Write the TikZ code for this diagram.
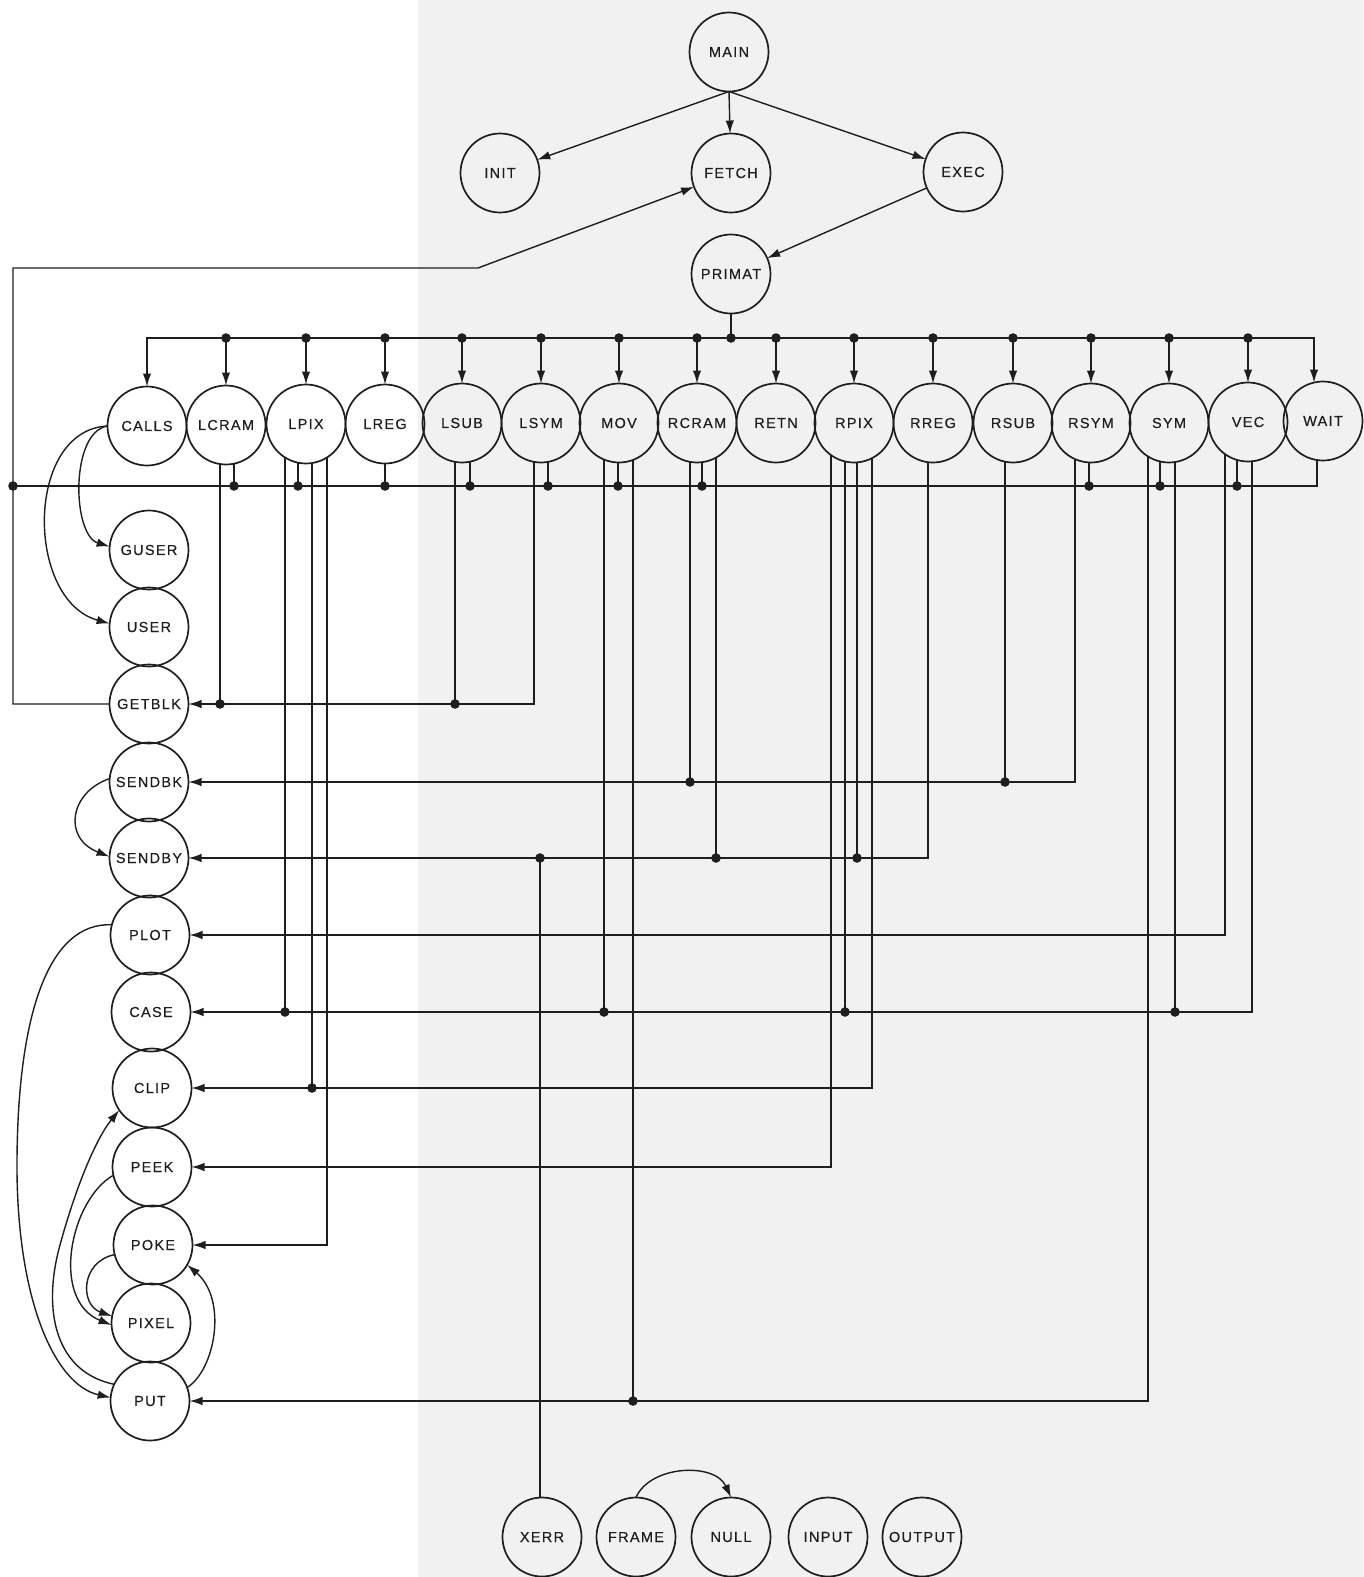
\documentclass[tikz,border=0pt]{standalone}
\usepackage{fontspec}
\setmainfont{Liberation Sans}[LetterSpace=9,FakeBold=0.4]
\usetikzlibrary{arrows.meta,calc}
\definecolor{bggrey}{RGB}{241,241,241}
\definecolor{ink}{RGB}{30,30,30}
% start point of a vertical line leaving the bottom of a circle (radius 39.5) at offset dx
\newcommand{\lstart}[3]{\coordinate (#1-#2) at ($(#1)+(#3,{sqrt(1560.25-(#3)*(#3))})$);}
\newcommand{\jdot}[1]{\fill[ink] #1 circle[radius=4.8pt];}
\begin{document}
\begin{tikzpicture}[x=1pt,y=-1pt,line width=1.4pt,draw=ink,
  proc/.style={circle,draw=ink,line width=1.7pt,minimum size=79pt,inner sep=0pt,outer sep=0pt,
    text=ink,font=\fontsize{14.5}{15}\selectfont},
  arr/.style={-{Latex[length=13pt,width=8.5pt]}}]
\useasboundingbox (0,0) rectangle (1363,1577);
\fill[bggrey] (418,0) rectangle (1363,1577);

% top
\node[proc] (MAIN) at (729,52) {MAIN};
\node[proc] (INIT) at (500,173) {INIT};
\node[proc] (FETCH) at (731,173) {FETCH};
\node[proc] (EXEC) at (963,172) {EXEC};
\node[proc] (PRIMAT) at (731,274) {PRIMAT};

% row
\node[proc] (CALLS) at (147,426) {CALLS};
\node[proc] (LCRAM) at (226,425) {LCRAM};
\node[proc] (LPIX) at (306,424) {LPIX};
\node[proc] (LREG) at (385,424) {LREG};
\node[proc] (LSUB) at (462,423) {LSUB};
\node[proc] (LSYM) at (541,423) {LSYM};
\node[proc] (MOV) at (619,423) {MOV};
\node[proc] (RCRAM) at (697,423) {RCRAM};
\node[proc] (RETN) at (776,423) {RETN};
\node[proc] (RPIX) at (854,423) {RPIX};
\node[proc] (RREG) at (933,423) {RREG};
\node[proc] (RSUB) at (1013,423) {RSUB};
\node[proc] (RSYM) at (1091,423) {RSYM};
\node[proc] (SYM) at (1169,423) {SYM};
\node[proc] (VEC) at (1248,422) {VEC};
\node[proc] (WAIT) at (1323,421) {WAIT};

% left column
\node[proc] (GUSER) at (149,550) {GUSER};
\node[proc] (USER) at (149,627) {USER};
\node[proc] (GETBLK) at (149,704) {GETBLK};
\node[proc] (SENDBK) at (149,782) {SENDBK};
\node[proc] (SENDBY) at (149,858) {SENDBY};
\node[proc] (PLOT) at (150,935) {PLOT};
\node[proc] (CASE) at (151,1012) {CASE};
\node[proc] (CLIP) at (152,1088) {CLIP};
\node[proc] (PEEK) at (152,1167) {PEEK};
\node[proc] (POKE) at (153,1245) {POKE};
\node[proc] (PIXEL) at (151,1323) {PIXEL};
\node[proc] (PUT) at (150,1401) {PUT};

% bottom row
\node[proc] (XERR) at (542,1537) {XERR};
\node[proc] (FRAME) at (636,1537) {FRAME};
\node[proc] (NULL) at (731,1537) {NULL};
\node[proc] (INPUT) at (828,1537) {INPUT};
\node[proc] (OUTPUT) at (922,1537) {OUTPUT};

% top part
\draw[arr] (MAIN.south) -- (INIT);
\draw[arr] (MAIN.south) -- (FETCH);
\draw[arr] (MAIN.south) -- (EXEC);
\draw[arr] (EXEC) -- (PRIMAT);

% top bus
\coordinate (tb) at (PRIMAT |- 0,338);
\coordinate (WAIT-t) at ($(WAIT)+(-9,{-sqrt(1560.25-81)})$);
\draw (PRIMAT) -- (tb);
\jdot{(tb)}
\draw[arr] (tb) -| (CALLS);
\draw[arr] (tb) -| (WAIT-t);
\foreach \n in {LCRAM,LPIX,LREG,LSUB,LSYM,MOV,RCRAM,RETN,RPIX,RREG,RSUB,RSYM,SYM,VEC}{
  \draw[arr] (\n |- tb) -- (\n);
  \jdot{(\n |- tb)}
}

% line starts
\lstart{LCRAM}{a}{-6} \lstart{LCRAM}{b}{8}
\lstart{LPIX}{a}{-21} \lstart{LPIX}{b}{-8} \lstart{LPIX}{c}{6} \lstart{LPIX}{d}{21}
\lstart{LREG}{a}{0}
\lstart{LSUB}{a}{-7} \lstart{LSUB}{b}{8}
\lstart{LSYM}{a}{-7} \lstart{LSYM}{b}{7}
\lstart{MOV}{a}{-15} \lstart{MOV}{b}{-1} \lstart{MOV}{c}{14}
\lstart{RCRAM}{a}{-7} \lstart{RCRAM}{b}{5} \lstart{RCRAM}{c}{19}
\lstart{RPIX}{a}{-23} \lstart{RPIX}{b}{-9} \lstart{RPIX}{c}{3} \lstart{RPIX}{d}{18}
\lstart{RREG}{a}{-5}
\lstart{RSUB}{a}{-8}
\lstart{RSYM}{a}{-16} \lstart{RSYM}{b}{-2}
\lstart{SYM}{a}{-21} \lstart{SYM}{b}{-9} \lstart{SYM}{c}{6}
\lstart{VEC}{a}{-23} \lstart{VEC}{b}{-11} \lstart{VEC}{c}{4}
\lstart{WAIT}{a}{-6}

% return bus to FETCH
\coordinate (lb) at (13,486);
\draw[arr] (GETBLK.west) -- (GETBLK.west -| lb) |- (478,268) -- (FETCH);
\draw (WAIT-a) |- (lb);
\jdot{(lb)}
\foreach \p in {LCRAM-b,LPIX-b,LREG-a,LSUB-b,LSYM-b,MOV-b,RCRAM-b,RSYM-b,SYM-b,VEC-b}{
  \draw (\p) -- (\p |- lb);
  \jdot{(\p |- lb)}
}

% GETBLK
\draw[arr] (LSYM-a) |- (GETBLK);
\foreach \p in {LSUB-a,LCRAM-a}{\draw (\p) -- (\p |- GETBLK); \jdot{(\p |- GETBLK)}}
% SENDBK
\draw[arr] (RSYM-a) |- (SENDBK);
\foreach \p in {RSUB-a,RCRAM-a}{\draw (\p) -- (\p |- SENDBK); \jdot{(\p |- SENDBK)}}
% SENDBY
\draw[arr] (RREG-a) |- (SENDBY);
\foreach \p in {RPIX-c,RCRAM-c}{\draw (\p) -- (\p |- SENDBY); \jdot{(\p |- SENDBY)}}
\draw ($(XERR.north)+(-2,0)$) coordinate (xe) -- (xe |- SENDBY);
\jdot{(xe |- SENDBY)}
% PLOT
\draw[arr] (VEC-a) |- (PLOT);
% CASE
\draw[arr] (VEC-c) |- (CASE);
\foreach \p in {SYM-c,RPIX-b,MOV-a,LPIX-a}{\draw (\p) -- (\p |- CASE); \jdot{(\p |- CASE)}}
% CLIP
\draw[arr] (RPIX-d) |- (CLIP);
\draw (LPIX-c) -- (LPIX-c |- CLIP); \jdot{(LPIX-c |- CLIP)}
% PEEK
\draw[arr] (RPIX-a) |- (PEEK);
% POKE
\draw[arr] (LPIX-d) |- (POKE);
% PUT
\draw[arr] (SYM-a) |- (PUT);
\draw (MOV-c) -- (MOV-c |- PUT); \jdot{(MOV-c |- PUT)}

% curved calls on the left
\draw[arr] (CALLS.180) .. controls (70,432) and (72,535) .. (GUSER.175);
\draw[arr] (CALLS.180) .. controls (25,430) and (25,600) .. (USER.175);
\draw[arr] (SENDBK.175) .. controls (70,792) and (62,838) .. (SENDBY.178);
\draw[arr] (PLOT.165) .. controls (50,922) and (18,1010) .. (17,1160)
  .. controls (16,1300) and (55,1385) .. (PUT.175);
\draw[arr] (PUT.155) .. controls (55,1372) and (42,1310) .. (60,1245)
  .. controls (75,1190) and (95,1140) .. (CLIP.214);
\draw[arr] (PEEK.192) .. controls (70,1200) and (50,1300) .. (PIXEL.183);
\draw[arr] (POKE.194) .. controls (80,1262) and (80,1305) .. (PIXEL.170);
\draw[arr] (PUT.20) .. controls (215,1370) and (228,1300) .. (POKE.-30);
\draw[arr] (FRAME.north) .. controls (650,1465) and (715,1462) .. (NULL.north);
\end{tikzpicture}
\end{document}
